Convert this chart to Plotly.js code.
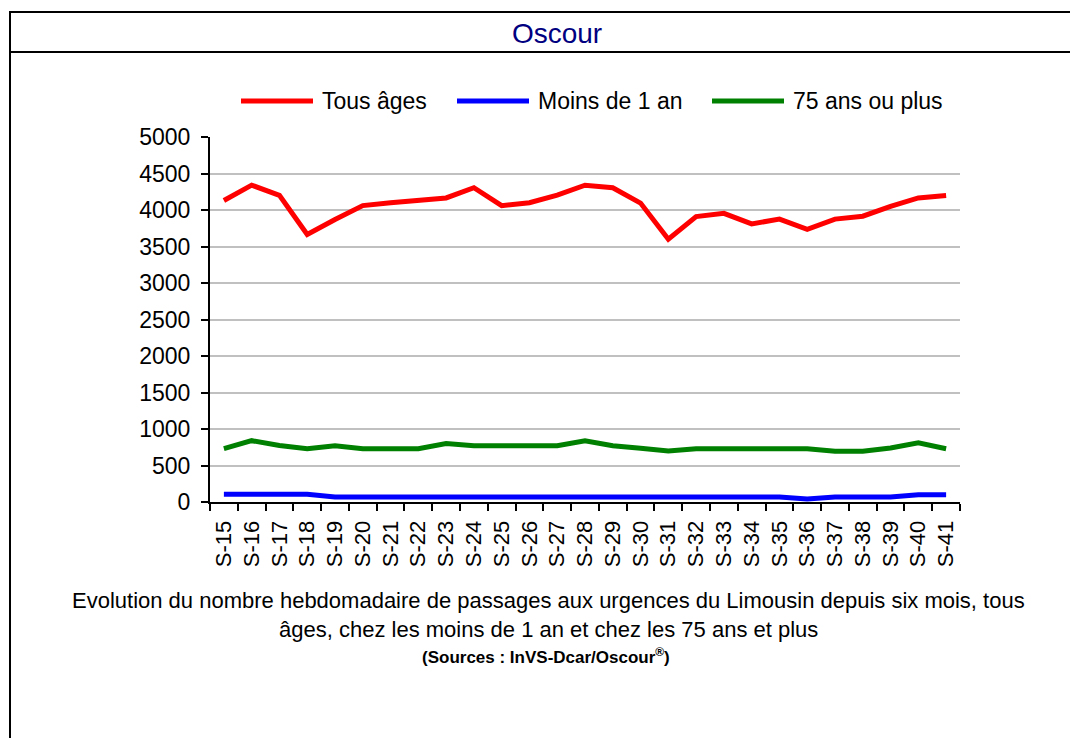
<!DOCTYPE html>
<html>
<head>
<meta charset="utf-8">
<script src="https://cdn.plot.ly/plotly-3.0.1.min.js"></script>
<style>html,body{margin:0;padding:0;background:#fff;}#chart{width:1070px;height:738px;}</style>
</head>
<body>
<div id="chart"></div>
<script>
const weeks = ["S-15","S-16","S-17","S-18","S-19","S-20","S-21","S-22","S-23","S-24","S-25","S-26","S-27","S-28","S-29","S-30","S-31","S-32","S-33","S-34","S-35","S-36","S-37","S-38","S-39","S-40","S-41"];
const tousAges = [4130,4340,4200,3665,3870,4060,4100,4130,4165,4305,4060,4100,4205,4340,4305,4095,3600,3910,3955,3810,3875,3735,3875,3915,4050,4165,4200];
const moins1an = [105,105,105,105,70,70,70,70,70,70,70,70,70,70,70,70,70,70,70,70,70,40,70,70,70,100,100];
const plus75 = [730,840,775,730,770,730,730,730,800,770,770,770,770,840,770,735,700,730,730,730,730,730,695,695,740,810,730];
const seriesNames = ["Tous âges","Moins de 1 an","75 ans ou plus"];
const seriesColors = ["#ff0000","#0000ff","#008000"];

const W = 1070, H = 738, L = 210, R = 960, T = 137, B = 502;
const px = x => (x - L) / (R - L);
const py = y => (B - y) / (B - T);
const FONT = "Liberation Sans, Arial, sans-serif";

const data = [tousAges, moins1an, plus75].map((vals, i) => ({
  type: "scatter", mode: "lines", x: weeks, y: vals, name: seriesNames[i],
  line: {color: seriesColors[i], width: 5}, showlegend: false, hoverinfo: "x+y"
}));

const shapes = [
  {type:"line", xref:"paper", yref:"paper", x0:px(10), x1:px(1080), y0:py(12), y1:py(12), line:{color:"#000", width:2}},
  {type:"line", xref:"paper", yref:"paper", x0:px(10), x1:px(1080), y0:py(52), y1:py(52), line:{color:"#000", width:2}},
  {type:"line", xref:"paper", yref:"paper", x0:px(10), x1:px(10), y0:py(11), y1:py(745), line:{color:"#000", width:2}}
];
const legendX = [241, 457, 712];
const annotations = [];
legendX.forEach((x0, i) => {
  shapes.push({type:"line", xref:"paper", yref:"paper", x0:px(x0), x1:px(x0+72), y0:py(101), y1:py(101), line:{color:seriesColors[i], width:5}});
  annotations.push({xref:"paper", yref:"paper", x:px(x0+79), y:py(101), xanchor:"left", yanchor:"middle", showarrow:false, text:seriesNames[i], font:{family:FONT, size:23, color:"#000"}});
});
annotations.push({xref:"paper", yref:"paper", x:px(548), y:py(600), xanchor:"center", yanchor:"middle", showarrow:false,
  text:"Evolution du nombre hebdomadaire de passages aux urgences du Limousin depuis six mois, tous", font:{family:FONT, size:22, color:"#000"}});
annotations.push({xref:"paper", yref:"paper", x:px(548), y:py(629), xanchor:"center", yanchor:"middle", showarrow:false,
  text:"âges, chez les moins de 1 an et chez les 75 ans et plus", font:{family:FONT, size:22, color:"#000"}});
annotations.push({xref:"paper", yref:"paper", x:px(546), y:py(656), xanchor:"center", yanchor:"middle", showarrow:false,
  text:"<b>(Sources : InVS-Dcar/Oscour<sup>®</sup>)</b>", font:{family:FONT, size:17, color:"#000"}});

const layout = {
  width: W, height: H,
  margin: {l: L, r: W - R, t: T, b: H - B, pad: 0},
  paper_bgcolor: "#fff", plot_bgcolor: "#fff",
  font: {family: FONT, color: "#000"},
  title: {text: "Oscour", xref: "paper", x: px(557), xanchor: "center", yref: "container", y: 1 - 33/H, yanchor: "middle",
          font: {family: "Liberation Sans Narrow, Arial Narrow, " + FONT, size: 28, color: "#000080"}},
  showlegend: false,
  xaxis: {type: "category", categoryorder: "array", categoryarray: weeks, range: [-0.5, 26.5],
          tickmode: "linear", tick0: 0, dtick: 1,
          tickson: "boundaries", ticks: "outside", ticklen: 7, tickwidth: 2, tickcolor: "#000",
          showline: true, linecolor: "#000", linewidth: 2, showgrid: false, zeroline: false,
          tickangle: -90, tickfont: {family: FONT, size: 22, color: "#000"}, ticklabelstandoff: 8, fixedrange: true},
  yaxis: {range: [0, 5000], dtick: 500, tick0: 0, ticks: "outside", ticklen: 7, tickwidth: 2, tickcolor: "#000",
          showline: true, linecolor: "#000", linewidth: 2, showgrid: true, gridcolor: "#c0c0c0", gridwidth: 2,
          zeroline: false, tickfont: {family: FONT, size: 23, color: "#000"}, ticklabelstandoff: 6, fixedrange: true},
  shapes: shapes, annotations: annotations
};
Plotly.newPlot("chart", data, layout, {displayModeBar: false, staticPlot: true});
</script>
</body>
</html>
